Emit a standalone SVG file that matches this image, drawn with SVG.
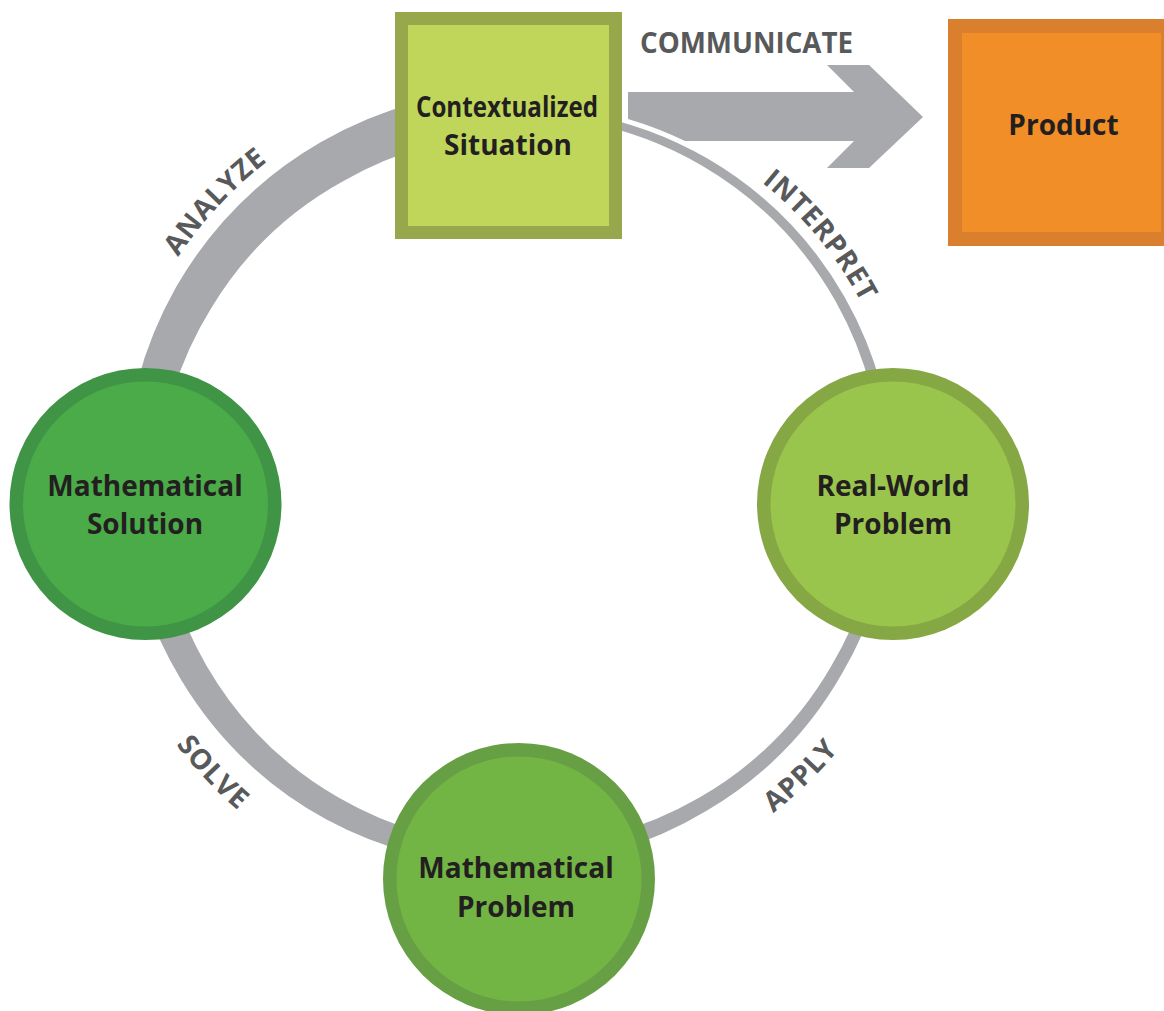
<svg xmlns="http://www.w3.org/2000/svg" width="1164" height="1011" viewBox="0 0 1164 1011">
  <style>
    .band { fill: #A7A9AC; }
    .lbl { font-family: "Open Sans", "Liberation Sans", sans-serif; font-weight: 700; font-size: 28px; fill: #58595B; }
    .node { font-family: "Open Sans", "Liberation Sans", sans-serif; font-weight: 700; font-size: 28px; fill: #231F20; text-anchor: middle; }
  </style>
  <defs>
    <path id="pAnalyze" d="M119.5,392.8 A410,410 0 0,1 399.1,92.9"/>
    <path id="pInterpret" d="M654.2,121.6 A388,388 0 0,1 901.6,420.3"/>
    <path id="pApply" d="M620.1,887.5 A415,415 0 0,0 918.1,598.7"/>
    <path id="pSolve" d="M100.4,583.2 A430,430 0 0,0 394.7,896.6"/>
  </defs>
  <rect width="1164" height="1011" fill="#FFFFFF"/>

  <g id="connectors">
    <path class="band" d="M584.5,113.7 A377,377 0 0,1 707.5,158.5 A376.5,376.5 0 0,1 844.6,297 A375,375 0 0,1 893.5,485 A374,374 0 0,1 842.9,672 A375,375 0 0,1 707,810.6 A378,378 0 0,1 519,865 A383,383 0 0,1 326,819.3 A388,388 0 0,1 181.2,680 A392,392 0 0,1 125,485 A395,395 0 0,1 176.1,287 A396,396 0 0,1 321,142.1 A396,396 0 0,1 416.5,102.5 L428.2,146 A351,351 0 0,0 343.5,181 A353,353 0 0,0 211.6,307.5 A358,358 0 0,0 158,485 A361,361 0 0,0 206.4,665.5 A361,361 0 0,0 338.5,797.6 A361,361 0 0,0 519,846 A361,361 0 0,0 699.5,797.6 A361,361 0 0,0 831.6,665.5 A362,362 0 0,0 882,485 A364.5,364.5 0 0,0 836,302 A367,367 0 0,0 703,166.3 A368.5,368.5 0 0,0 583.1,121.6 Z"/>
    <path id="communicate-arrow" class="band" d="M628,92 L854,92 L827,65 L869,65 L923,117 L869,168 L827,168 L854,141 L685,141 A382,382 0 0,0 628,119 Z"/>
    <text class="lbl" x="746.5" y="53" text-anchor="middle" textLength="213" lengthAdjust="spacingAndGlyphs">COMMUNICATE</text>
    <text class="lbl" letter-spacing="0.8"><textPath href="#pAnalyze" startOffset="50%" text-anchor="middle">ANALYZE</textPath></text>
    <text class="lbl" letter-spacing="0.8"><textPath href="#pInterpret" startOffset="50%" text-anchor="middle">INTERPRET</textPath></text>
    <text class="lbl" letter-spacing="0.8"><textPath href="#pApply" startOffset="50%" text-anchor="middle">APPLY</textPath></text>
    <text class="lbl" letter-spacing="0.8"><textPath href="#pSolve" startOffset="50%" text-anchor="middle">SOLVE</textPath></text>
  </g>

  <g id="contextualized-situation">
    <rect x="395" y="12" width="227" height="227" fill="#96A84B"/>
    <rect x="408" y="25" width="201" height="201" fill="#C0D65A"/>
    <text class="node" x="507" y="117" textLength="182" lengthAdjust="spacingAndGlyphs">Contextualized</text>
    <text class="node" x="508" y="155">Situation</text>
  </g>

  <g id="product">
    <rect x="948" y="19" width="227" height="227" fill="#DA7F2E"/>
    <rect x="962" y="33" width="199" height="199" fill="#F18E27"/>
    <text class="node" x="1063.5" y="135">Product</text>
  </g>

  <g id="mathematical-solution">
    <circle cx="145.5" cy="504" r="136" fill="#3F9446"/>
    <circle cx="145.5" cy="504" r="122.5" fill="#4AAB48"/>
    <text class="node" x="145" y="496">Mathematical</text>
    <text class="node" x="145" y="534">Solution</text>
  </g>

  <g id="real-world-problem">
    <circle cx="893" cy="504" r="136" fill="#85A744"/>
    <circle cx="893" cy="504" r="122.5" fill="#9AC54C"/>
    <text class="node" x="893" y="496">Real-World</text>
    <text class="node" x="893" y="534">Problem</text>
  </g>

  <g id="mathematical-problem">
    <circle cx="519" cy="879" r="136" fill="#679F45"/>
    <circle cx="519" cy="879" r="122.5" fill="#73B545"/>
    <text class="node" x="516" y="878">Mathematical</text>
    <text class="node" x="516" y="917">Problem</text>
  </g>
</svg>
